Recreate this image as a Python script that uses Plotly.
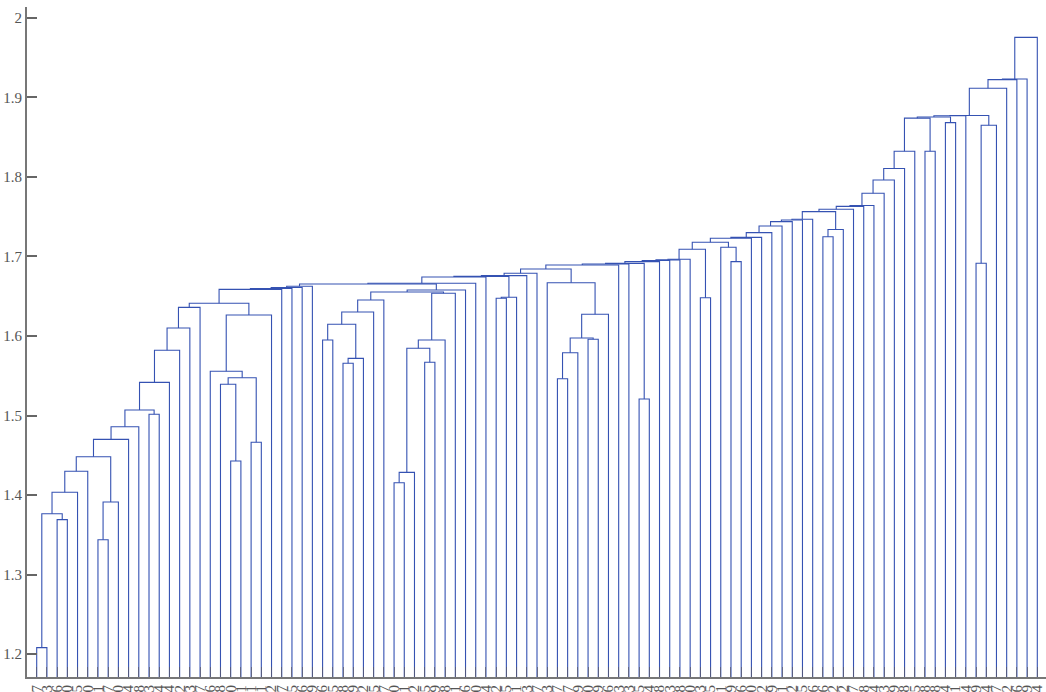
import plotly.graph_objects as go

# Leaf labels in dendrogram order (left to right)
leaf_labels = [
    "7", "13", "36", "60", "5", "20", "41", "17", "30", "64",
    "58", "83", "44", "74", "62", "43", "87", "46", "68", "10",
    "21", "31", "91", "2", "57", "15", "26", "29", "86", "25",
    "18", "49", "32", "65", "97", "50", "51", "72", "85", "39",
    "48", "11", "66", "70", "14", "82", "95", "1", "33", "67",
    "23", "77", "47", "79", "90", "99", "6", "63", "3", "75",
    "4", "28", "53", "38", "40", "93", "35", "61", "9", "96",
    "80", "42", "59", "71", "92", "55", "16", "56", "12", "22",
    "27", "78", "24", "73", "19", "88", "45", "98", "8", "34",
    "81", "54", "69", "84", "37", "52", "76", "89", "94",
]

# Linkage rows n0..n97: two children (int = leaf position, "nK" = earlier row) and merge height
merge_left = [
    0, 2, "n0", "n2", "n3", 6, "n5", "n4", "n7", "n8",              # n0-n9
    11, "n9", "n11", "n12", "n13", "n14", 19, 18, 21, "n17",        # n10-n19
    17, "n20", "n15", "n22", "n23", "n24", "n25", 28, 30, "n28",    # n20-n29
    "n27", "n30", "n31", 35, "n33", 38, "n34", "n36", "n37", "n32", # n30-n39
    "n39", "n26", "n41", "n42", 45, "n44", "n43", "n46", "n47", 51, # n40-n49
    "n49", 54, "n50", "n52", 50, "n48", "n55", "n56", 59, "n57",    # n50-n59
    "n59", "n60", "n61", "n62", 65, "n63", 68, 67, "n65", "n68",    # n60-n69
    "n69", "n70", "n71", "n72", "n73", "n74", 77, "n76", "n75", "n78",  # n70-n79
    "n79", "n80", "n81", "n82", "n83", 87, "n84", "n86", 89, "n87",     # n80-n89
    "n89", 92, "n91", "n90", "n93", "n94", "n95", "n96",                # n90-n97
]
merge_right = [
    1, 3, "n1", 4, 5, 7, 8, "n6", 9, 10,
    12, "n10", 13, 14, 15, 16, 20, "n16", 22, "n18",
    "n19", 23, "n21", 24, 25, 26, 27, 29, 31, 32,
    "n29", 33, 34, 36, 37, 39, "n35", 40, 41, "n38",
    42, "n40", 43, 44, 46, 47, "n45", 48, 49, 52,
    53, 55, "n51", 56, "n53", "n54", 57, 58, 60, "n58",
    61, 62, 63, 64, 66, "n64", 69, "n66", "n67", 70,
    71, 72, 73, 74, 75, 76, 78, 79, "n77", 80,
    81, 82, 83, 84, 85, 88, 86, "n85", 90, "n88",
    91, 93, 94, "n92", 95, 96, 97, 98,
]
merge_height = [
    1.208, 1.369, 1.3765, 1.4034, 1.4298, 1.3438, 1.3912, 1.4482, 1.4700, 1.4859,
    1.5015, 1.5069, 1.5417, 1.582, 1.610, 1.636, 1.4428, 1.5393, 1.4663, 1.5475,
    1.5556, 1.6264, 1.6411, 1.6587, 1.6597, 1.6610, 1.6625, 1.595, 1.5657, 1.5719,
    1.6147, 1.6302, 1.6453, 1.4155, 1.4285, 1.5669, 1.5845, 1.595, 1.6537, 1.6553,
    1.6579, 1.6654, 1.6663, 1.6742, 1.6474, 1.6487, 1.6750, 1.6759, 1.6789, 1.5463,
    1.579, 1.596, 1.5975, 1.6273, 1.667, 1.6843, 1.6893, 1.6906, 1.5208, 1.6914,
    1.6935, 1.6950, 1.6958, 1.6965, 1.6482, 1.7091, 1.6935, 1.7116, 1.7179, 1.7229,
    1.7241, 1.7300, 1.7384, 1.7438, 1.7459, 1.7468, 1.7249, 1.734, 1.7564, 1.7594,
    1.763, 1.7641, 1.7796, 1.7963, 1.8107, 1.8323, 1.8323, 1.874, 1.8684, 1.8755,
    1.877, 1.6915, 1.8651, 1.8773, 1.9117, 1.9225, 1.9232, 1.9756,
]

y_ticks = [1.2, 1.3, 1.4, 1.5, 1.6, 1.7, 1.8, 1.9, 2.0]
y_tick_text = ["1.2", "1.3", "1.4", "1.5", "1.6", "1.7", "1.8", "1.9", "2"]

# Walk the linkage: every row draws one U-shaped link
pos, hgt = {}, {}


def child_xy(c):
    if isinstance(c, int):
        return float(c), 0.0
    return pos[c], hgt[c]


xs, ys = [], []
for k, (a, b, h) in enumerate(zip(merge_left, merge_right, merge_height)):
    xa, ya = child_xy(a)
    xb, yb = child_xy(b)
    xs += [xa, xa, xb, xb, None]
    ys += [ya, h, h, yb, None]
    pos[f"n{k}"] = (xa + xb) / 2
    hgt[f"n{k}"] = h

fig = go.Figure()
fig.add_trace(go.Scatter(
    x=xs, y=ys, mode="lines",
    line=dict(color="#3552b2", width=1.1),
    hoverinfo="skip", showlegend=False,
))

font = dict(family="Liberation Serif, Times New Roman, serif", size=15, color="#555555")

fig.update_layout(
    width=1046, height=692,
    margin=dict(l=27, r=0, t=7, b=15, pad=0),
    paper_bgcolor="white", plot_bgcolor="white",
    showlegend=False,
    xaxis=dict(
        range=[-0.95, 98.852],
        tickmode="array", tickvals=list(range(len(leaf_labels))), ticktext=leaf_labels,
        tickangle=-90, ticks="inside", ticklen=10, tickwidth=1,
        tickcolor="rgba(90,90,110,0.75)",
        showline=True, linecolor="#777777", linewidth=2,
        showgrid=False, zeroline=False, tickfont=font, automargin=False,
    ),
    yaxis=dict(
        range=[1.1711, 2.0138],
        tickmode="array", tickvals=y_ticks, ticktext=y_tick_text,
        ticks="inside", ticklen=10, tickwidth=1.5, tickcolor="#666666",
        showline=True, linecolor="#777777", linewidth=2,
        showgrid=False, zeroline=False, tickfont=font, automargin=False,
    ),
)

fig.write_html("out.html")
